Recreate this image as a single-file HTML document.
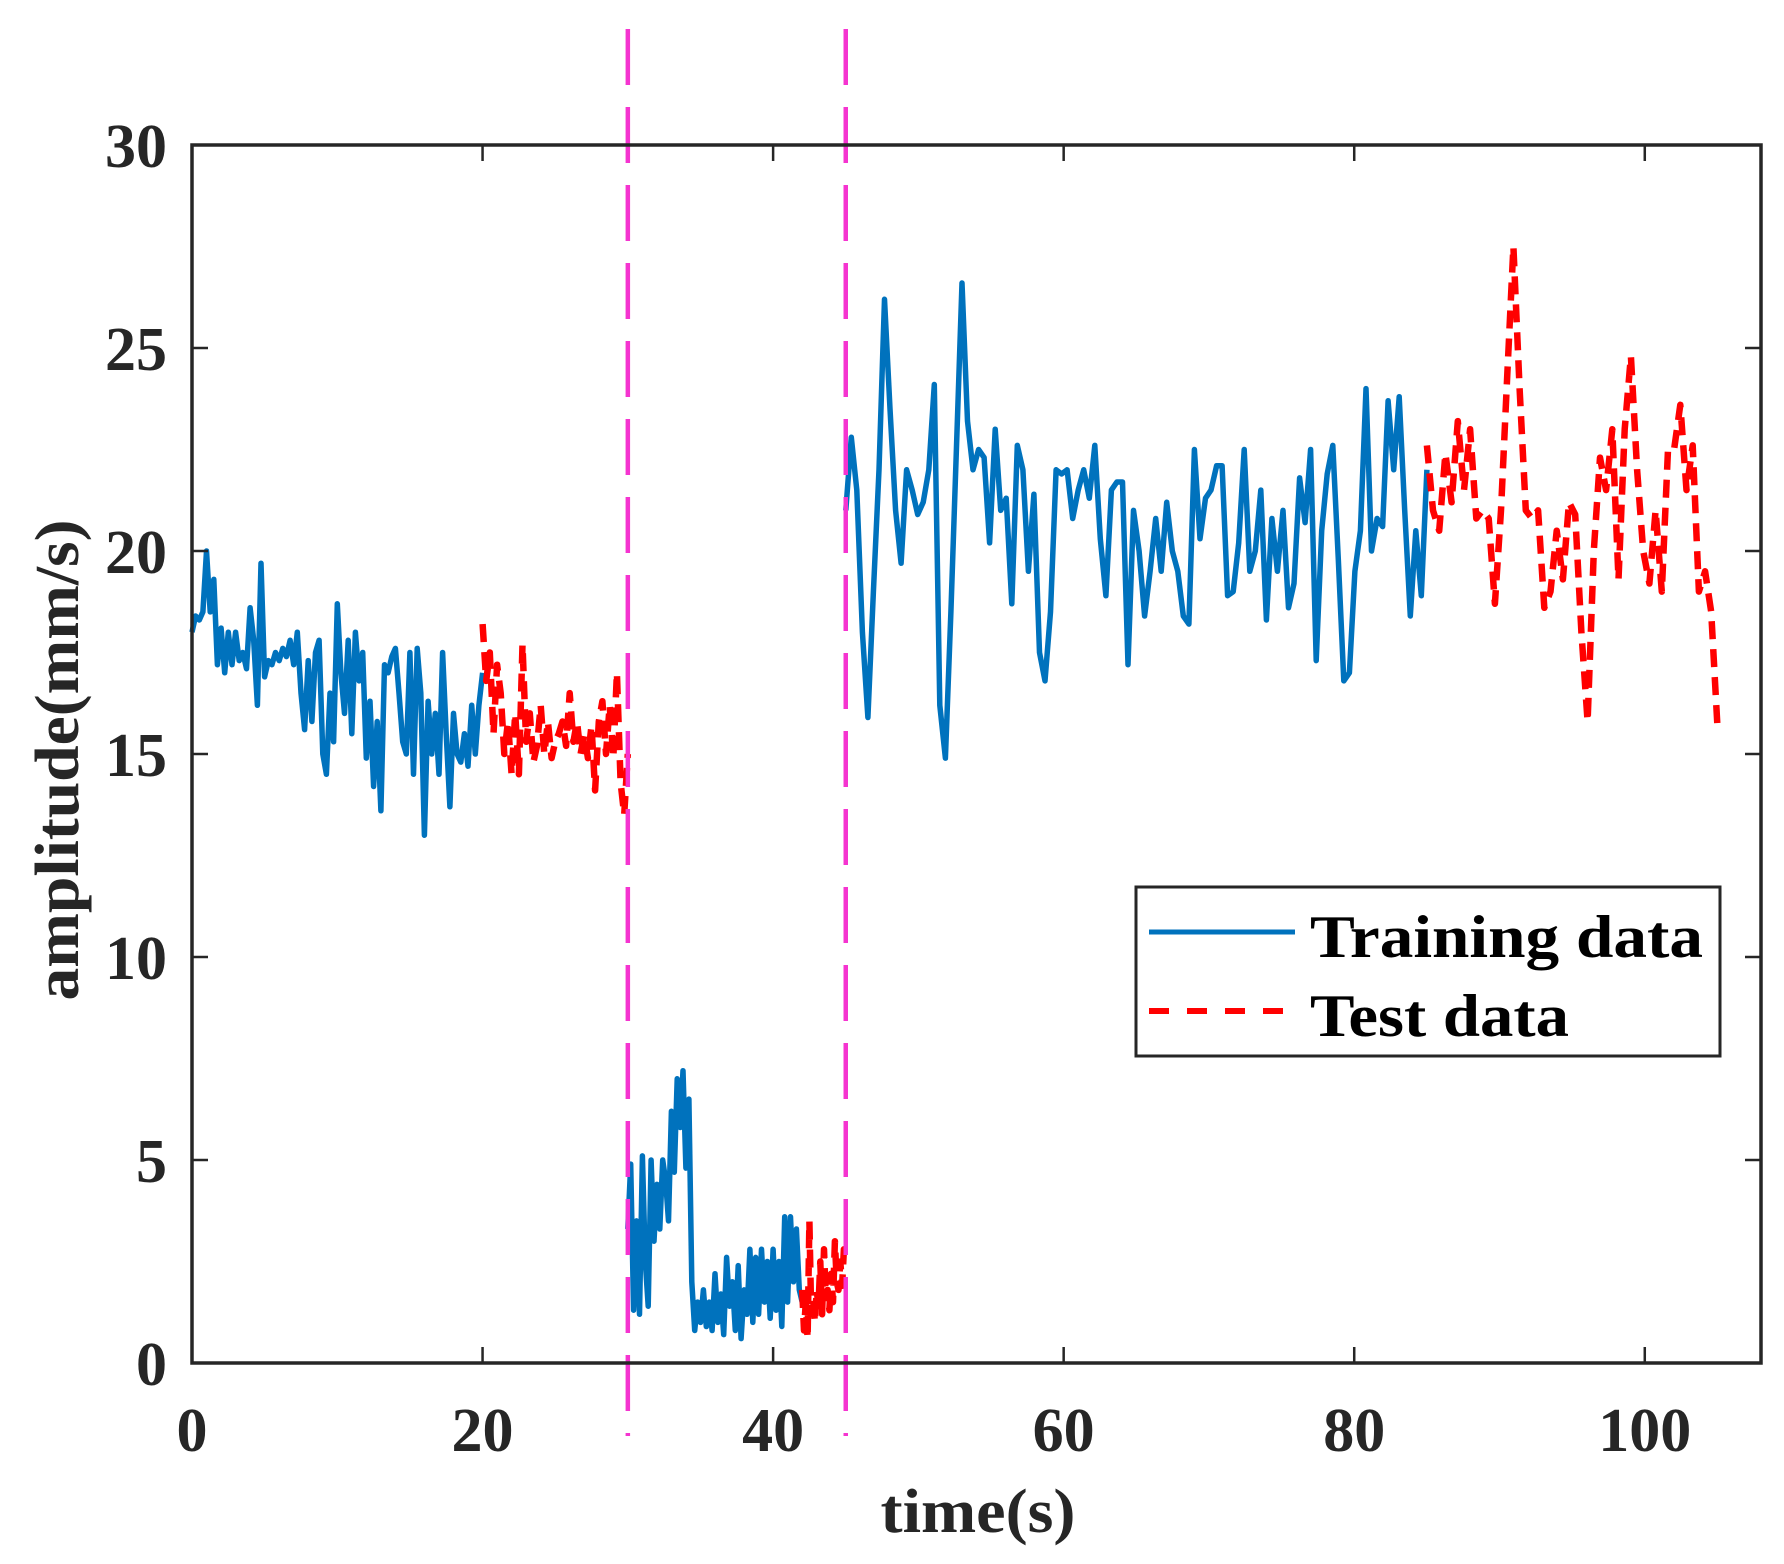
<!DOCTYPE html>
<html><head><meta charset="utf-8"><style>
html,body{margin:0;padding:0;background:#fff;}
svg{display:block;}
text{font-family:"Liberation Serif",serif;font-weight:bold;fill:#262626;}
</style></head><body>
<svg id="chart" width="1784" height="1564" viewBox="0 0 1784 1564">
<rect x="0" y="0" width="1784" height="1564" fill="#fff"/>
<g id="marks"></g>
<g id="axes"></g>
</svg>
<script>
const xTicks = [0, 20, 40, 60, 80, 100];
const yTicks = [0, 5, 10, 15, 20, 25, 30];
const splitTimes = [30, 45];
const train1T = [0, 20];
const train1 = [18,18.4,18.3,18.5,20,18.5,19.3,17.2,18.1,17.0,18.0,17.2,18.0,17.3,17.5,17.1,18.6,17.8,16.2,19.7,16.9,17.3,17.2,17.5,17.3,17.6,17.4,17.8,17.2,18.0,16.5,15.6,17.3,15.8,17.5,17.8,15.0,14.5,16.5,15.3,18.7,17.0,16.0,17.8,15.5,18.0,16.8,17.5,14.9,16.3,14.2,15.8,13.6,17.2,17.0,17.4,17.6,16.5,15.3,15.0,17.5,14.5,17.6,16.5,13.0,16.3,15.0,16.0,14.5,17.5,15.5,13.7,16.0,15.0,14.8,15.5,14.7,16.2,15.0,16.2,17.0];
const test1T = [20, 30];
const test1 = [18.2,16.8,17.5,15.5,17.2,16.5,15.0,15.8,14.5,16.0,14.5,17.7,15.3,16.0,14.8,15.2,16.2,15.0,15.8,14.9,15.3,15.5,15.8,15.2,16.5,15.3,15.8,15.0,15.5,14.9,15.7,14.1,15.8,16.3,15.0,16.2,14.9,17.0,14.3,13.5,15.0];
const train2T = [30, 42];
const train2 = [3.3,4.9,1.3,3.5,1.2,5.1,2.5,1.4,5.0,3.0,4.4,3.3,5.0,4.5,3.5,6.2,4.7,7.0,5.8,7.2,4.8,6.5,2.0,0.8,1.5,1.0,1.8,0.9,1.5,0.8,2.2,1.0,1.7,0.7,2.6,1.4,2.0,0.8,2.4,0.6,1.8,1.2,2.8,1.0,2.6,1.2,2.8,1.5,2.5,1.1,2.8,1.3,2.5,0.9,3.6,1.5,3.6,2.0,3.3,1.8,1.5];
const test2T = [42, 45];
const test2 = [1.8,0.8,1.5,0.6,3.5,1.2,1.6,1.0,1.8,1.4,2.5,1.2,2.8,1.6,1.8,1.3,2.2,1.5,3.0,2.0,1.8,2.5,1.9,2.8,2.6];
const train3T = [45, 85];
const train3 = [21,22.8,21.5,18.0,15.9,19.0,22.0,26.2,23.5,21.0,19.7,22.0,21.5,20.9,21.2,22.0,24.1,16.2,14.9,18.5,22.5,26.6,23.2,22.0,22.5,22.3,20.2,23.0,21.0,21.3,18.7,22.6,22.0,19.5,21.4,17.5,16.8,18.5,22.0,21.9,22.0,20.8,21.5,22.0,21.3,22.6,20.3,18.9,21.5,21.7,21.7,17.2,21.0,20.0,18.4,19.5,20.8,19.5,21.2,20.0,19.5,18.4,18.2,22.5,20.3,21.3,21.5,22.1,22.1,18.9,19.0,20.2,22.5,19.5,20.0,21.5,18.3,20.8,19.5,21.0,18.6,19.2,21.8,20.7,22.5,17.3,20.5,21.9,22.6,19.8,16.8,17.0,19.5,20.5,24.0,20.0,20.8,20.6,23.7,22.0,23.8,21.0,18.4,20.5,18.9,22.0];
const test3T = [85, 105];
const test3 = [22.6,21.0,20.5,22.4,21.2,23.2,21.5,23.0,20.8,21.0,20.8,18.7,21.0,24.3,27.5,24.0,21.0,20.8,21.0,18.6,19.0,20.5,19.3,21.2,20.9,18.0,15.8,20.0,22.3,21.5,23.0,19.3,23.0,24.8,22.0,20.0,19.2,21.0,19.0,22.5,22.5,23.6,21.5,22.6,19.0,19.5,18.5,15.7];

const NS = "http://www.w3.org/2000/svg";
const L = 192, R = 1761, T = 145, B = 1363;
const xMin = 0, xMax = 108, yMin = 0, yMax = 30;
function xs(v){ return L + (v - xMin) / (xMax - xMin) * (R - L); }
function ys(v){ return B - (v - yMin) / (yMax - yMin) * (B - T); }
function mk(tag, attrs, parent){
  const e = document.createElementNS(NS, tag);
  for (const k in attrs) e.setAttribute(k, attrs[k]);
  parent.appendChild(e);
  return e;
}
const marks = document.getElementById('marks');
const axes = document.getElementById('axes');

function series(vals, range, color, dash, width, name){
  const n = vals.length;
  const pts = vals.map((v, i) => {
    const t = range[0] + (range[1] - range[0]) * i / (n - 1);
    return xs(t).toFixed(1) + ',' + ys(v).toFixed(1);
  }).join(' ');
  const p = mk('polyline', {points: pts, fill: 'none', stroke: color, 'stroke-width': width, 'stroke-linejoin': 'round'}, marks);
  if (dash) p.setAttribute('stroke-dasharray', dash);
  
  
}
series(train1, train1T, '#0072BD', null, 5.5, 'training-series-1');
series(train2, train2T, '#0072BD', null, 5.5, 'training-series-2');
series(train3, train3T, '#0072BD', null, 5.5, 'training-series-3');
series(test1, test1T, '#FF0000', '18 10', 6.5, 'test-series-1');
series(test2, test2T, '#FF0000', '18 10', 6.5, 'test-series-2');
series(test3, test3T, '#FF0000', '18 10', 6.5, 'test-series-3');

splitTimes.forEach(t => {
  const l = mk('line', {x1: xs(t), x2: xs(t), y1: 29, y2: 1436, stroke: '#F534D0', 'stroke-width': 4.5, 'stroke-dasharray': '56 22'}, marks);
  
  
});

const frame = mk('rect', {x: L, y: T, width: R - L, height: B - T, fill: 'none', stroke: '#262626', 'stroke-width': 3.5}, axes);



xTicks.forEach(v => {
  const x = xs(v);
  const t1 = mk('line', {x1: x, x2: x, y1: B, y2: B - 16, stroke: '#262626', 'stroke-width': 2.5}, axes);
  
  
  const t2 = mk('line', {x1: x, x2: x, y1: T, y2: T + 16, stroke: '#262626', 'stroke-width': 2.5}, axes);
  
  
  const tx = mk('text', {x: x, y: 1451, 'text-anchor': 'middle', 'font-size': 62}, axes);
  tx.textContent = String(v);
  
  
});
yTicks.forEach(v => {
  const y = ys(v);
  const t1 = mk('line', {x1: L, x2: L + 16, y1: y, y2: y, stroke: '#262626', 'stroke-width': 2.5}, axes);
  
  
  const t2 = mk('line', {x1: R, x2: R - 16, y1: y, y2: y, stroke: '#262626', 'stroke-width': 2.5}, axes);
  
  
  const tx = mk('text', {x: 167, y: y + 22, 'text-anchor': 'end', 'font-size': 62}, axes);
  tx.textContent = String(v);
  
  
});
</script>
<svg width="1784" height="1564" style="position:absolute;left:0;top:0">
<text x="978" y="1532" text-anchor="middle" font-size="62" textLength="195" lengthAdjust="spacingAndGlyphs">time(s)</text>
<text transform="translate(78,760) rotate(-90)" text-anchor="middle" font-size="62" textLength="481" lengthAdjust="spacingAndGlyphs">amplitude(mm/s)</text>
<g>
<rect x="1136" y="887" width="584" height="169" fill="#fff" stroke="#262626" stroke-width="3"/>
<line x1="1149" y1="932" x2="1295" y2="932" stroke="#0072BD" stroke-width="5"/>
<text x="1310" y="957" font-size="60" style="fill:#000" textLength="393" lengthAdjust="spacingAndGlyphs">Training data</text>
<line x1="1149" y1="1011" x2="1290" y2="1011" stroke="#FF0000" stroke-width="6" stroke-dasharray="20 18"/>
<text x="1310" y="1036" font-size="60" style="fill:#000" textLength="259" lengthAdjust="spacingAndGlyphs">Test data</text>
</g>
</svg>
</body></html>
